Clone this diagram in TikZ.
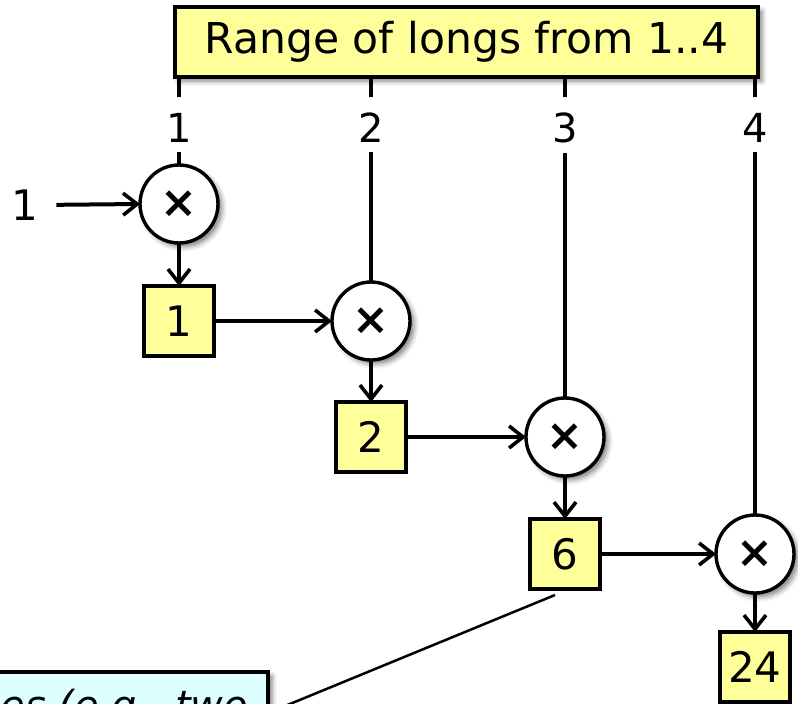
\documentclass[tikz,border=0pt]{standalone}
\usepackage{fontspec}
\setmainfont{DejaVu Sans}
\usetikzlibrary{arrows.meta,shadows.blur}
\definecolor{boxyellow}{HTML}{FFFF99}
\definecolor{calloutcyan}{HTML}{DDFFFF}
\tikzset{
  every node/.style={inner sep=0pt, outer sep=0pt},
  softshadow/.style={blur shadow={shadow xshift=4pt, shadow yshift=-4pt, shadow blur radius=5pt, shadow opacity=50}},
  conn/.style={line width=4pt, draw=black},
  arr/.style={conn, -{Straight Barb[length=14pt,width=22pt,line width=3.6pt]}},
  mult/.style={circle, draw, line width=3.4pt, fill=white, minimum size=78pt,
    font=\fontsize{44}{44}\selectfont\bfseries, softshadow},
  valbox/.style={rectangle, draw, line width=3.4pt, fill=boxyellow,
    minimum width=70pt, minimum height=70pt, font=\fontsize{42}{42}\selectfont},
  rangebox/.style={rectangle, draw, line width=3.4pt, fill=boxyellow,
    minimum width=583pt, minimum height=70pt, font=\fontsize{42.5}{42.5}\selectfont, softshadow},
  ticklabel/.style={font=\fontsize{40}{40}\selectfont},
  calloutbox/.style={rectangle, draw, line width=3.4pt, fill=calloutcyan,
    font=\fontsize{40}{40}\selectfont\itshape, softshadow},
}
\begin{document}
\begin{tikzpicture}[x=1pt,y=-1pt]
\useasboundingbox (0,0) rectangle (798,704);
\clip (0,0) rectangle (798,704);
% range box
\node[rangebox] (range) at (466.5,42) {Range of longs from 1..4};
% tick labels
\node[ticklabel] (t1) at (179,128) {1};
\node[ticklabel] (t2) at (371,128) {2};
\node[ticklabel] (t3) at (565,128) {3};
\node[ticklabel] (t4) at (755,128) {4};
% multiply circles
\node[mult] (c1) at (179,204) {×};
\node[mult] (c2) at (371,321) {×};
\node[mult] (c3) at (565,437) {×};
\node[mult] (c4) at (755,554) {×};
% value boxes
\node[valbox] (b1) at (179,321) {1};
\node[valbox] (b2) at (371,437) {2};
\node[valbox] (b3) at (565,554) {6};
\node[valbox] (b4) at (755,667) {24};
% input
\node[ticklabel, font=\fontsize{42}{42}\selectfont] (inp) at (25,205) {1};
% callout
\node[calloutbox, anchor=north east, inner xsep=20pt, inner ysep=17pt] (callout) at (268,672) {es (e.g., two};
\coordinate (ptr) at (555,595);
\coordinate (cp) at (268,713);
% tick connectors
\foreach \t/\c in {t1/c1,t2/c2,t3/c3,t4/c4}{
  \draw[conn] (range.south -| \t) -- ([yshift=16pt]\t.north);
  \draw[conn] ([yshift=-9.5pt]\t.south) -- (\c.north);
}
% flow arrows
\draw[arr, shorten <=18pt] (inp.east) -- (c1.west);
\draw[arr] (c1.south) -- (b1.north);
\draw[arr] (b1.east) -- (c2.west);
\draw[arr] (c2.south) -- (b2.north);
\draw[arr] (b2.east) -- (c3.west);
\draw[arr] (c3.south) -- (b3.north);
\draw[arr] (b3.east) -- (c4.west);
\draw[arr] (c4.south) -- (b4.north);
% callout pointer
\draw[line width=2.5pt] (cp) -- (ptr);
\end{tikzpicture}
\end{document}
